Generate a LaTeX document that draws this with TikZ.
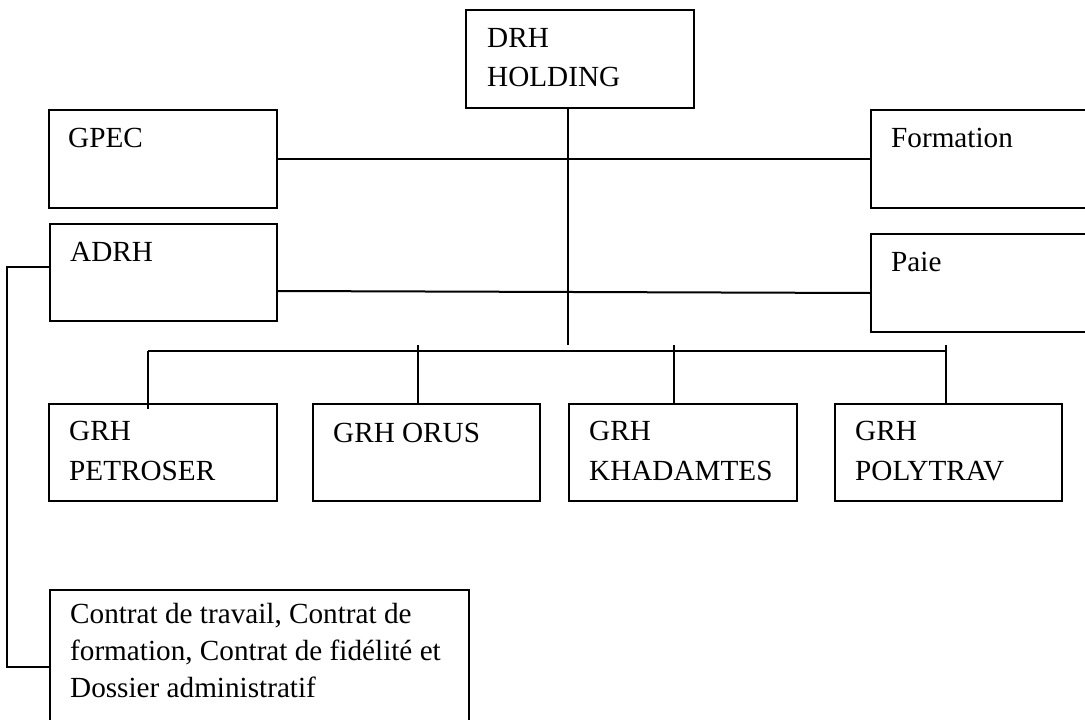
\documentclass[tikz,border=0pt]{standalone}
\usepackage{fontspec}
\setmainfont{Liberation Serif}
\begin{document}
\begin{tikzpicture}[x=1pt,y=-1pt,
  box/.style={draw, line width=2pt, inner sep=0pt, anchor=north west},
  conn/.style={line width=2pt},
  txt/.style={anchor=base west, inner sep=0pt, font=\fontsize{29.2}{39}\selectfont}]
\clip (0,0) rectangle (1085,720);
\fill[white] (0,0) rectangle (1085,720);
% boxes
\node[box, minimum width=228pt, minimum height=98pt] (drh) at (465,9) {};
\node[box, minimum width=228pt, minimum height=98pt] (gpec) at (48,109) {};
\node[box, minimum width=240pt, minimum height=98pt] (formation) at (870,109) {};
\node[box, minimum width=227pt, minimum height=97pt] (adrh) at (49,223) {};
\node[box, minimum width=240pt, minimum height=98pt] (paie) at (870,233) {};
\node[box, minimum width=228pt, minimum height=97pt] (petro) at (48,403) {};
\node[box, minimum width=227pt, minimum height=97pt] (orus) at (312,403) {};
\node[box, minimum width=228pt, minimum height=97pt] (khad) at (568,403) {};
\node[box, minimum width=227pt, minimum height=97pt] (poly) at (834,403) {};
\node[box, minimum width=419pt, minimum height=150pt] (contrat) at (49,589) {};
% texts
\node[txt] (tdrh) at (487,47) {\parbox[t]{220pt}{DRH\\HOLDING}};
\node[txt] (tgpec) at (68,147) {GPEC};
\node[txt] (tform) at (891,147) {Formation};
\node[txt] (tadrh) at (70,261) {ADRH};
\node[txt] (tpaie) at (891,271) {Paie};
\node[txt, font=\fontsize{29.2}{40}\selectfont] (tpetro) at (69,440) {\parbox[t]{220pt}{GRH\\PETROSER}};
\node[txt] (torus) at (333,442) {GRH ORUS};
\node[txt, font=\fontsize{29.2}{40}\selectfont] (tkhad) at (589,440) {\parbox[t]{220pt}{GRH\\KHADAMTES}};
\node[txt, font=\fontsize{29.2}{40}\selectfont] (tpoly) at (855,440) {\parbox[t]{220pt}{GRH\\POLYTRAV}};
\node[txt, font=\fontsize{29.2}{37}\selectfont] (tcontrat) at (70,623) {\parbox[t]{400pt}{Contrat de travail, Contrat de\\formation, Contrat de fidélité et\\Dossier administratif}};
% connector coordinates
\coordinate (drhend) at (568,345);
\coordinate (busL) at (148,351);
\coordinate (busR) at (946,351);
\coordinate (tO) at (418,345);
\coordinate (tK) at (674,345);
\coordinate (tP) at (946,345);
\coordinate (a1) at (7,267);
\coordinate (a2) at (7,667);
% connectors
\draw[conn] (drhend |- drh.south) -- (drhend);
\draw[conn] (gpec.east) -- (formation.west);
\draw[conn] (adrh.east |- 0,291) -- (paie.west |- 0,293);
\draw[conn] (adrh.west |- a1) -- (a1) -- (a2) -- (contrat.west |- a2);
\draw[conn] (busL) -- (busR);
\draw[conn] (busL) -- ([yshift=-6pt]busL |- petro.north);
\draw[conn] (tO) -- (tO |- orus.north);
\draw[conn] (tK) -- (tK |- khad.north);
\draw[conn] (tP) -- (tP |- poly.north);
\end{tikzpicture}
\end{document}
